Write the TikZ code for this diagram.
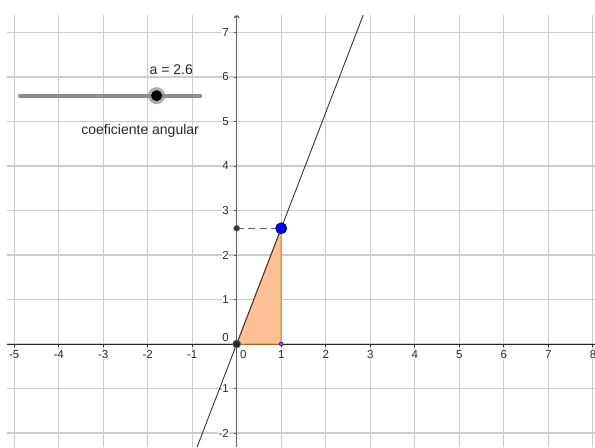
\documentclass[tikz,border=0pt]{standalone}
\usepackage{fontspec}
\setmainfont{Liberation Sans}
\usetikzlibrary{arrows.meta}
\definecolor{gridc}{RGB}{204,204,204}
\definecolor{axisc}{RGB}{40,40,40}
\definecolor{yaxisc}{RGB}{95,95,95}
\definecolor{triFill}{RGB}{255,192,150}
\definecolor{triEdge}{RGB}{230,115,40}
\definecolor{slidec}{RGB}{140,140,140}
\definecolor{linec}{RGB}{55,55,55}
\definecolor{textc}{RGB}{40,40,40}
\tikzset{
  gridline/.style={draw=gridc, line width=1.1pt},
  ticklab/.style={font=\fontsize{11.5}{13}\selectfont, text=textc, fill=white, inner sep=0.6pt},
  slidertext/.style={font=\fontsize{14}{16}\selectfont, text=textc, inner sep=0pt},
  dotpt/.style={circle, inner sep=0pt},
}
\begin{document}
\begin{tikzpicture}[x=44.5pt,y=44.5pt]
\useasboundingbox (-5.319,-2.3146) rectangle (8.0517,7.7303);
\fill[white] (-5.319,-2.3146) rectangle (8.0517,7.7303);
% grid
\foreach \i in {-5,...,8} \draw[gridline] (\i,-2.3146) -- (\i,7.39);
\foreach \j in {-2,...,7} \draw[gridline] (-5.16,\j) -- (8.0517,\j);
% x tick labels
\foreach \i in {-5,-4,-3,-2,-1,2,3,4,5,6,7} \node[ticklab] (xl\i) at (\i,-0.24) {\i};
\node[ticklab] (xl1) at (1,-0.24) {1};
\node[ticklab, anchor=west] (xl0) at (0.06,-0.24) {0};
\node[ticklab, anchor=east] (xl8) at (8.1,-0.24) {8};
% y tick labels
\foreach \j in {-2,-1,1,2,3,4,5,6,7} \node[ticklab, anchor=east] (yl\j) at (-0.16,\j) {\j};
\node[ticklab, anchor=east] (yl0) at (-0.16,0.15) {0};
% axes
\draw[axisc, line width=1pt] (-5.16,0) -- (8.0517,0);
\draw[yaxisc, line width=1.3pt, -{To[length=3pt,width=6pt]}] (0,-2.3146) -- (0,7.39);
\foreach \i in {-5,...,8} \draw[axisc, line width=0.7pt] (\i,0) -- (\i,-0.06);
\foreach \j in {-2,...,7} \draw[yaxisc, line width=0.7pt] (0,\j) -- (-0.06,\j);
% triangle
\coordinate (O) at (0,0);
\coordinate (B) at (1,0);
\coordinate (P) at (1,2.6);
\coordinate (Q) at (0,2.6);
\filldraw[fill=triFill, draw=triEdge, line width=1pt, line join=round] (O) -- (B) -- (P) -- cycle;
% line y = 2.6x
\coordinate (L1) at (-0.8902,-2.3146);
\coordinate (L2) at (2.8423,7.39);
\draw[linec, line width=0.9pt] (L1) -- (L2);
% dashed
\draw[yaxisc, line width=1pt, dash pattern=on 7pt off 4.5pt] (Q) -- (P);
% points
\node[dotpt, minimum size=6pt, fill=black!80, draw=black!60, line width=0.5pt] (q) at (Q) {};
\node[dotpt, minimum size=8pt, fill=black!85, draw=black!55, line width=0.8pt] (o) at (O) {};
\node[dotpt, minimum size=4pt, fill=blue!60, draw=blue!50!black, line width=0.4pt] (b) at (B) {};
\node[dotpt, minimum size=11pt, fill=blue, draw=blue!50!black, line width=0.8pt] (p) at (P) {};
% slider
\coordinate (S1) at (-4.87,5.58);
\coordinate (S2) at (-0.82,5.58);
\draw[slidec, line width=4pt, line cap=round] (S1) -- (S2);
\node[dotpt, minimum size=17pt, fill=black!45, opacity=0.7] (knobhalo) at (-1.80,5.58) {};
\node[dotpt, minimum size=11pt, fill=black] (knob) at (-1.80,5.58) {};
\node[slidertext] (alab) at (-1.47,6.17) {a = 2.6};
\node[slidertext] (clab) at (-2.17,4.79) {coeficiente angular};
\end{tikzpicture}
\end{document}
